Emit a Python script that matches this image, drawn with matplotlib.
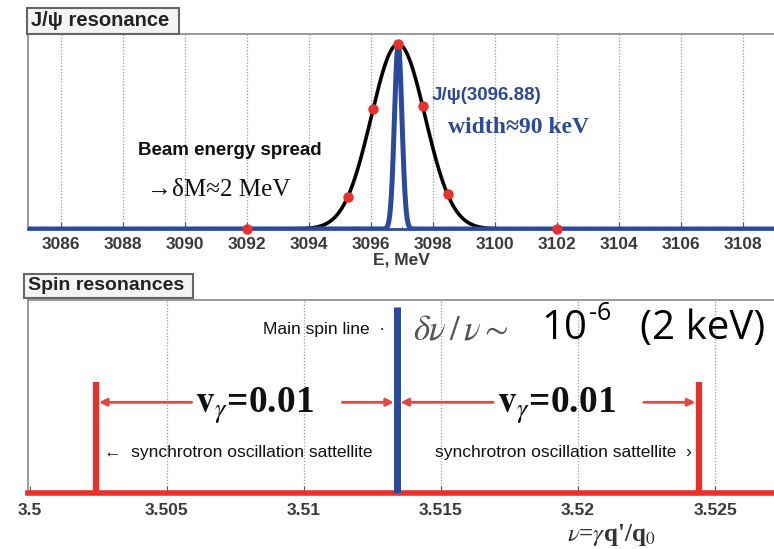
import numpy as np
import matplotlib
matplotlib.use('Agg')
import matplotlib.pyplot as plt

plt.rcParams['font.family'] = ['Liberation Sans', 'DejaVu Sans']
plt.rcParams['mathtext.fontset'] = 'stix'

# J/psi resonance: beam spread vs. natural width
energy_ticks = [3086, 3088, 3090, 3092, 3094, 3096, 3098, 3100, 3102, 3104, 3106, 3108]
jpsi_mass = 3096.88      # MeV
beam_sigma = 0.87        # MeV, beam energy spread
jpsi_sigma = 0.12        # MeV, drawn natural width
scan_points = [3092.0, 3095.25, 3096.07, 3096.88, 3097.67, 3098.47, 3102.0]

# spin resonances
spin_tune = [3.5024, 3.5134, 3.5244]
spin_height = [0.575, 0.964, 0.575]
spin_ticks = [3.5, 3.505, 3.51, 3.515, 3.52, 3.525]
spin_ticklabels = ['3.5', '3.505', '3.51', '3.515', '3.52', '3.525']

BLUE = '#2b4a9e'
RED = '#e8312b'
GRID = '#9a9a9a'
TICK = '#3a3a3a'

fig = plt.figure(figsize=(7.74, 5.49), dpi=100)

# ---- top panel ----
ax1 = fig.add_axes([28/774, 1 - 229/549, 746/774, 195/549])
E = np.linspace(3084, 3110, 4000)
beam = np.exp(-0.5 * ((E - jpsi_mass) / beam_sigma) ** 2)
res = np.exp(-0.5 * ((E - jpsi_mass) / jpsi_sigma) ** 2)
ax1.plot(E, beam, color='black', lw=2.6, zorder=3)
ax1.plot(E, res, color=BLUE, lw=3.6, zorder=4)
sp = np.array(scan_points)
ax1.plot(sp, np.exp(-0.5 * ((sp - jpsi_mass) / beam_sigma) ** 2), 'o',
         color=RED, ms=6.5, zorder=5, clip_on=False)

ax1.set_xlim(3084.94, 3109.0)
ax1.set_ylim(0, 1.054)
ax1.set_xticks(energy_ticks)
ax1.set_xticks(np.arange(3085, 3109.1, 0.5), minor=True)
ax1.set_yticks([])
for e in energy_ticks:
    ax1.axvline(e, color=GRID, lw=0.9, ls=(0, (1, 1.5)), zorder=1)
ax1.tick_params(axis='x', which='major', direction='in', length=5, pad=6,
                labelsize=12.5, labelcolor=TICK, color='#555')
ax1.tick_params(axis='x', which='minor', direction='in', length=2.5, color='#777')
for lb in ax1.get_xticklabels():
    lb.set_fontweight('bold')
for s in ['top', 'left']:
    ax1.spines[s].set_color('#8a8a8a')
    ax1.spines[s].set_linewidth(1.2)
ax1.spines['right'].set_visible(False)
ax1.spines['bottom'].set_color(BLUE)
ax1.spines['bottom'].set_linewidth(2)
ax1.set_xlabel('E, MeV', fontsize=12.5, fontweight='bold', color=TICK, labelpad=0)

ax1.text(3088.48, 0.427, 'Beam energy spread', fontsize=13.5, fontweight='bold',
         color='#111', va='center')
ax1.text(3088.77, 0.21, '→δM≈2 MeV', fontsize=18, family='Liberation Serif',
         color='#111', va='center')
ax1.text(3097.97, 0.724, 'J/ψ(3096.88)', fontsize=13.5, fontweight='bold',
         color=BLUE, va='center')
ax1.text(3098.48, 0.546, 'width≈90 keV', fontsize=17, family='Liberation Serif',
         fontweight='bold', color=BLUE, va='center')

fig.text(31/774, 1 - 21/549, 'J/ψ resonance ', fontsize=14.5, fontweight='bold',
         color='#222', va='center',
         bbox=dict(boxstyle='square,pad=0.18', fc='#f4f4f4', ec='#666', lw=1.5))

# ---- bottom panel ----
ax2 = fig.add_axes([28/774, 1 - 493/549, 746/774, 193/549])
ax2.set_xlim(3.49993, 3.52715)
ax2.set_ylim(0, 1)
for t in spin_ticks[1:]:
    ax2.axvline(t, color=GRID, lw=0.9, ls=(0, (1, 1.5)), zorder=1)
colors = [RED, BLUE, RED]
widths = [4.5, 5, 4.5]
for x, h, c, w in zip(spin_tune, spin_height, colors, widths):
    ax2.vlines(x, 0, h, color=c, lw=w, zorder=4)
ax2.axhline(0, color=RED, lw=4, zorder=3, clip_on=False)

ax2.set_xticks(spin_ticks)
ax2.set_xticklabels(spin_ticklabels)
ax2.set_xticks(np.arange(3.5, 3.527, 0.0005), minor=True)
ax2.set_yticks([])
ax2.tick_params(axis='x', which='major', direction='in', length=5, pad=7,
                labelsize=12.5, labelcolor=TICK, color='#555')
ax2.tick_params(axis='x', which='minor', direction='in', length=2.5, color='#777')
for lb in ax2.get_xticklabels():
    lb.set_fontweight('bold')
for s in ['top', 'left']:
    ax2.spines[s].set_color('#8a8a8a')
    ax2.spines[s].set_linewidth(1.2)
ax2.spines['right'].set_visible(False)
ax2.spines['bottom'].set_visible(False)

# spacing arrows between main line and satellites
arrow_y = 0.47
arrow_kw = dict(arrowstyle='-|>', color='#e4473f', lw=2, mutation_scale=11,
                shrinkA=0, shrinkB=0)
gap = 0.0035
for a, b in zip(spin_tune[:-1], spin_tune[1:]):
    mid = 0.5 * (a + b)
    ax2.annotate('', xy=(a + 0.00012, arrow_y), xytext=(a + gap, arrow_y),
                 arrowprops=arrow_kw)
    ax2.annotate('', xy=(b - 0.00012, arrow_y), xytext=(b - 0.0020, arrow_y),
                 arrowprops=arrow_kw)
    ax2.text(mid + 0.0003, arrow_y - 0.02, r'$\mathbf{v}_{\gamma}$=0.01',
             fontsize=27, family='Liberation Serif', fontweight='bold',
             ha='center', va='center', color='#111', zorder=6)

ax2.text(spin_tune[0] + 0.0003, 0.21, '←  synchrotron oscillation sattellite',
         fontsize=12.5, color='#111', va='center')
ax2.text(spin_tune[2] - 0.00025, 0.21, 'synchrotron oscillation sattellite  ›',
         fontsize=12.5, color='#111', va='center', ha='right')
ax2.text(spin_tune[1] - 0.00045, 0.845, 'Main spin line  ·', fontsize=12.5,
         color='#111', va='center', ha='right')
ax2.text(spin_tune[1] + 0.00058, 0.845, r'$\delta\nu\,/\,\nu \sim$', fontsize=25,
         color='#555', va='center')

fig.text(541/774, 1 - 329/549, '10', fontsize=29, family='Open Sans',
         color='black', va='center')
fig.text(589/774, 1 - 314/549, '-6', fontsize=18, family='Open Sans',
         color='black', va='center')
fig.text(640/774, 1 - 329/549, '(2 keV)', fontsize=29, family='Open Sans',
         color='black', va='center')

fig.text(28/774, 1 - 286/549, 'Spin resonances ', fontsize=14, fontweight='bold',
         color='#222', va='center',
         bbox=dict(boxstyle='square,pad=0.18', fc='#f4f4f4', ec='#666', lw=1.5))

fig.text(611/774, 1 - 535/549, r"$\nu$=$\gamma$q'/q$_0$", fontsize=18,
         family='Liberation Serif', fontweight='bold', ha='center', va='center',
         color='#333')

fig.savefig('out.png', dpi=100)
